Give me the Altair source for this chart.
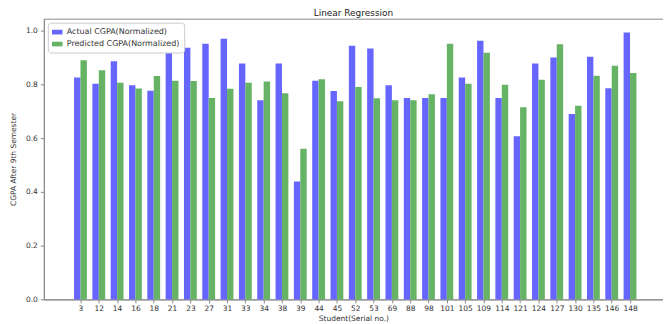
import altair as alt
import pandas as pd

students = [3, 12, 14, 16, 18, 21, 23, 27, 31, 33, 34, 38, 39, 44, 45, 52, 53,
            69, 88, 98, 101, 105, 109, 114, 121, 124, 127, 130, 135, 146, 148]
actual = [0.825, 0.802, 0.886, 0.796, 0.776, 0.962, 0.936, 0.951, 0.969, 0.877,
          0.741, 0.877, 0.438, 0.813, 0.775, 0.943, 0.933, 0.796, 0.749, 0.749,
          0.749, 0.825, 0.962, 0.749, 0.607, 0.877, 0.900, 0.689, 0.902, 0.785, 0.993]
predicted = [0.889, 0.852, 0.806, 0.784, 0.831, 0.813, 0.812, 0.749, 0.783, 0.806,
             0.810, 0.767, 0.560, 0.819, 0.737, 0.790, 0.748, 0.741, 0.741, 0.763,
             0.951, 0.802, 0.917, 0.798, 0.715, 0.817, 0.949, 0.720, 0.832, 0.869, 0.842]
series_names = ["Actual CGPA(Normalized)", "Predicted CGPA(Normalized)"]
series_colors = ["#6666ff", "#66b366"]

rows = []
for i, s in enumerate(students):
    rows.append({"idx": i, "student": s, "series": series_names[0], "value": actual[i], "shift": -0.35})
    rows.append({"idx": i, "student": s, "series": series_names[1], "value": predicted[i], "shift": 0.0})
df = pd.DataFrame(rows)

label_array = "[" + ",".join("'%d'" % s for s in students) + "]"

chart = alt.Chart(df).transform_calculate(
    x0="datum.idx + datum.shift",
    x1="datum.idx + datum.shift + 0.35",
).mark_bar().encode(
    x=alt.X("x0:Q",
            scale=alt.Scale(domain=[-2, 31.8], nice=False, zero=False),
            axis=alt.Axis(values=list(range(len(students))),
                          labelExpr=label_array + "[datum.value]",
                          title="Student(Serial no.)", grid=False,
                          tickSize=3.5, labelPadding=2, titlePadding=2)),
    x2="x1:Q",
    y=alt.Y("value:Q",
            scale=alt.Scale(domain=[0, 1.044], nice=False),
            axis=alt.Axis(values=[0, 0.2, 0.4, 0.6, 0.8, 1.0], format=".1f",
                          title="CGPA After 9th Semester", grid=False,
                          tickSize=3.5, labelPadding=3, titlePadding=8)),
    y2=alt.datum(0),
    color=alt.Color("series:N",
                    scale=alt.Scale(domain=series_names, range=series_colors),
                    legend=alt.Legend(title=None, orient="top-left", offset=4,
                                      symbolType="M-1,-0.45L1,-0.45L1,0.45L-1,0.45Z",
                                      symbolSize=110, symbolStrokeWidth=0,
                                      labelFontSize=8, labelColor="#333",
                                      rowPadding=2, padding=4,
                                      fillColor="white", strokeColor="#cccccc",
                                      cornerRadius=3)),
).properties(
    width=622,
    height=282,
    title=alt.Title("Linear Regression", fontSize=9, fontWeight="normal",
                    color="#222", offset=1, font="DejaVu Sans"),
    autosize=alt.AutoSizeParams(type="none"),
    padding={"left": 36, "top": 10, "right": 0, "bottom": 22},
).configure_view(
    stroke="#888888", strokeWidth=1
).configure_axis(
    labelFont="DejaVu Sans", titleFont="DejaVu Sans",
    labelFontSize=7.5, titleFontSize=7.5, titleFontWeight="normal",
    labelColor="#333", titleColor="#333",
    domainColor="#888888", tickColor="#888888",
).configure_legend(
    labelFont="DejaVu Sans"
)

chart.save("out.html", embed_options={"renderer": "svg", "actions": False})
